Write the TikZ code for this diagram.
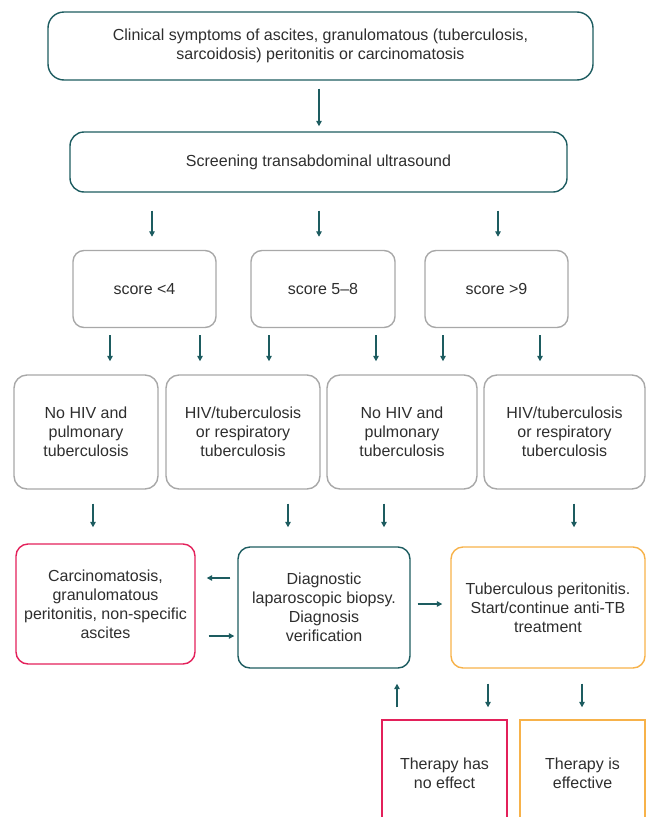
\documentclass[tikz,border=0pt]{standalone}
\usepackage{fontspec}
\setmainfont{Liberation Sans}
\usetikzlibrary{arrows.meta}
\definecolor{teal1}{HTML}{1D5C60}
\definecolor{gray1}{HTML}{A8A8A8}
\definecolor{red1}{HTML}{E3205A}
\definecolor{orange1}{HTML}{F7B24A}
\definecolor{txt}{HTML}{2E2E2E}
\tikzset{
  box/.style={draw, line width=1.4pt, align=center, inner sep=0pt, text=txt,
    font=\fontsize{16}{19}\selectfont},
  tealbox/.style={box, draw=teal1, rounded corners=16pt},
  graybox/.style={box, draw=gray1, rounded corners=11pt},
  redbox/.style={box, draw=red1, rounded corners=12pt},
  orbox/.style={box, draw=orange1, rounded corners=12pt},
  arr/.style={draw=teal1, line width=1.4pt, -{Triangle[length=5.5pt,width=5.5pt]}},
}
\begin{document}
\begin{tikzpicture}[x=1pt,y=-1pt]
\useasboundingbox (0,0) rectangle (647,817);
\node[tealbox, minimum width=545pt, minimum height=68pt] (A) at (320.5,46)
  {Clinical symptoms of ascites, granulomatous (tuberculosis,\\sarcoidosis) peritonitis or carcinomatosis};
\node[tealbox, rounded corners=14pt, minimum width=497pt, minimum height=60pt] (B) at (318.5,162)
  {Screening transabdominal ultrasound};
\node[graybox, minimum width=143pt, minimum height=77pt] (s1) at (144.5,289) {score <4};
\node[graybox, minimum width=144pt, minimum height=77pt] (s2) at (323,289) {score 5–8};
\node[graybox, minimum width=143pt, minimum height=77pt] (s3) at (496.5,289) {score >9};
\node[graybox, rounded corners=13pt, minimum width=144pt, minimum height=114pt] (b1) at (86,432) {No HIV and\\pulmonary\\tuberculosis};
\node[graybox, rounded corners=13pt, minimum width=154pt, minimum height=114pt] (b2) at (243,432) {HIV/tuberculosis\\or respiratory\\tuberculosis};
\node[graybox, rounded corners=13pt, minimum width=150pt, minimum height=114pt] (b3) at (402,432) {No HIV and\\pulmonary\\tuberculosis};
\node[graybox, rounded corners=13pt, minimum width=161pt, minimum height=114pt] (b4) at (564.5,432) {HIV/tuberculosis\\or respiratory\\tuberculosis};
\node[redbox, minimum width=179pt, minimum height=120pt] (R) at (105.5,604) {Carcinomatosis,\\granulomatous\\peritonitis, non-specific\\ascites};
\node[tealbox, rounded corners=12pt, minimum width=172pt, minimum height=121pt] (D) at (324,607.5) {Diagnostic\\laparoscopic biopsy.\\Diagnosis\\verification};
\node[orbox, minimum width=194pt, minimum height=121pt] (O) at (548,607.5) {Tuberculous peritonitis.\\Start/continue anti-TB\\treatment};
\node[box, draw=red1, minimum width=125pt, minimum height=106pt] (T1) at (444.5,773) {Therapy has\\no effect};
\node[box, draw=orange1, minimum width=125pt, minimum height=106pt] (T2) at (582.5,773) {Therapy is\\effective};
% column coordinates
\coordinate (c152) at (152,0);
\coordinate (c319) at (319,0);
\coordinate (c498) at (498,0);
\coordinate (c110) at (110,0);
\coordinate (c200) at (200,0);
\coordinate (c269) at (269,0);
\coordinate (c376) at (376,0);
\coordinate (c443) at (443,0);
\coordinate (c540) at (540,0);
\coordinate (c93) at (93,0);
\coordinate (c288) at (288,0);
\coordinate (c384) at (384,0);
\coordinate (c574) at (574,0);
\coordinate (c397) at (397,0);
\coordinate (c488) at (488,0);
\coordinate (c582) at (582,0);
\coordinate (r578) at (0,578);
\coordinate (r636) at (0,636);
\coordinate (r604) at (0,604);
% arrows
\draw[arr, shorten <=8pt, shorten >=5pt] (A.south -| c319) -- (B.north -| c319);
\foreach \c/\t in {c152/s1, c319/s2, c498/s3}
  \draw[arr, shorten <=18pt, shorten >=13pt] (B.south -| \c) -- (\t.north -| \c);
\foreach \s/\c/\t in {s1/c110/b1, s1/c200/b2, s2/c269/b2, s2/c376/b3, s3/c443/b3, s3/c540/b4}
  \draw[arr, shorten <=7pt, shorten >=13pt] (\s.south -| \c) -- (\t.north -| \c);
\draw[arr, shorten <=14pt, shorten >=16pt] (b1.south -| c93) -- (R.north -| c93);
\draw[arr, shorten <=14pt, shorten >=19pt] (b2.south -| c288) -- (D.north -| c288);
\draw[arr, shorten <=14pt, shorten >=19pt] (b3.south -| c384) -- (D.north -| c384);
\draw[arr, shorten <=14pt, shorten >=19pt] (b4.south -| c574) -- (O.north -| c574);
\draw[arr, shorten <=7pt, shorten >=11pt] (D.west |- r578) -- (R.east |- r578);
\draw[arr, shorten <=13pt, shorten >=3pt] (R.east |- r636) -- (D.west |- r636);
\draw[arr, shorten <=7pt, shorten >=8pt] (D.east |- r604) -- (O.west |- r604);
\draw[arr, shorten <=12pt, shorten >=15pt] (T1.north -| c397) -- (D.south -| c397);
\draw[arr, shorten <=15pt, shorten >=12pt] (O.south -| c488) -- (T1.north -| c488);
\draw[arr, shorten <=15pt, shorten >=12pt] (O.south -| c582) -- (T2.north -| c582);
\end{tikzpicture}
\end{document}
